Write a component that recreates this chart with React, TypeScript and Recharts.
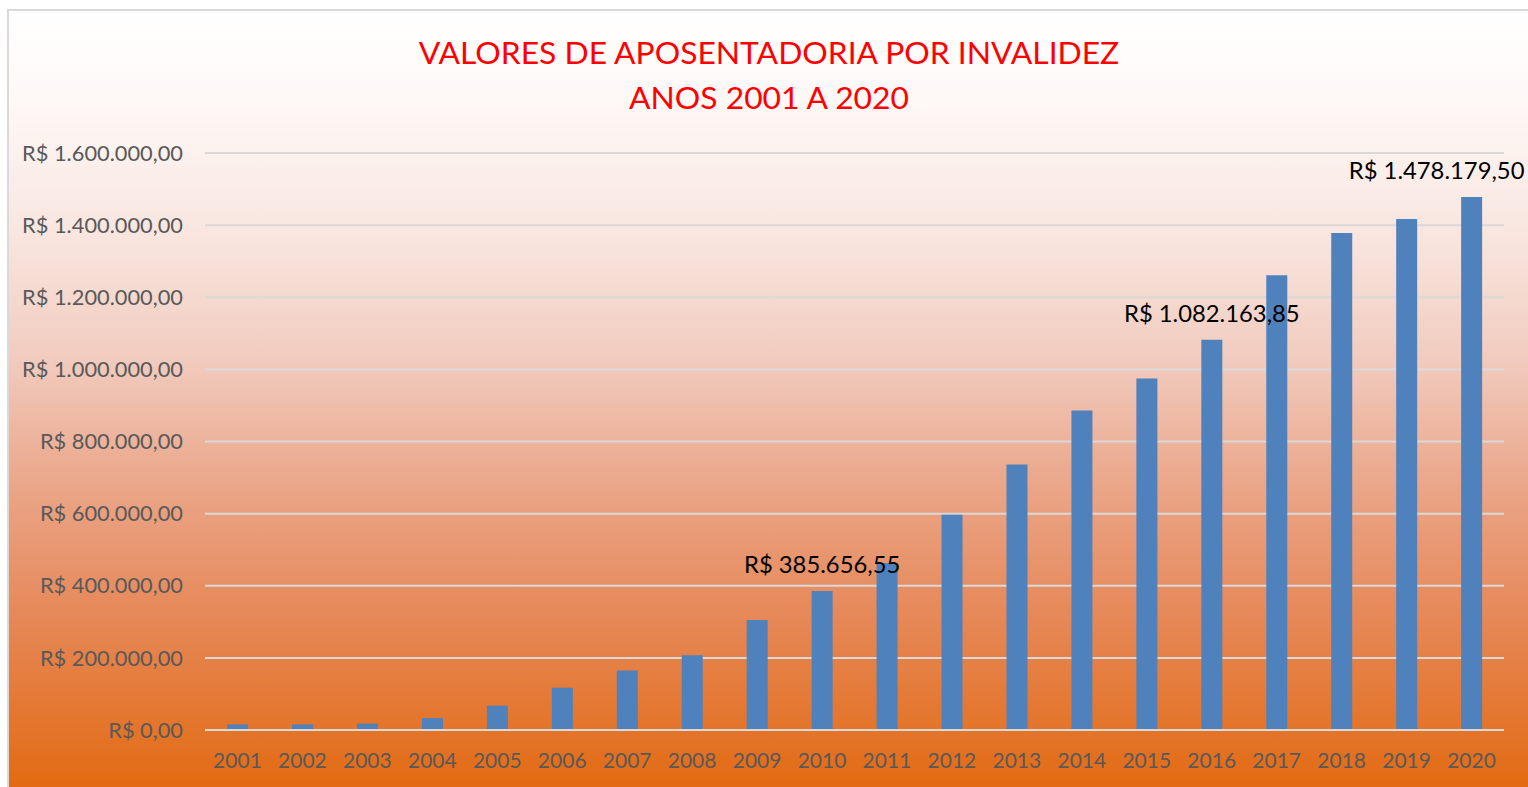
import React from 'react';
import { BarChart, Bar, XAxis, YAxis, CartesianGrid, LabelList } from 'recharts';

const years = ['2001','2002','2003','2004','2005','2006','2007','2008','2009','2010','2011','2012','2013','2014','2015','2016','2017','2018','2019','2020'];
const values = [15500, 15500, 17500, 33000, 67500, 117000, 165000, 207500, 305000, 385656.55, 463000, 597000, 736000, 886000, 975000, 1082163.85, 1261000, 1378500, 1416700, 1478179.5];
const labeledYears = ['2010', '2016', '2020'];
const yTicks = [0, 200000, 400000, 600000, 800000, 1000000, 1200000, 1400000, 1600000];
const titleLines = ['VALORES DE APOSENTADORIA POR INVALIDEZ', 'ANOS 2001 A 2020'];

const data = years.map((y, i) => ({ year: y, value: values[i] }));

const brl = (v: number) => {
  const fixed = v.toFixed(2);
  const [intPart, dec] = fixed.split('.');
  const withDots = intPart.replace(/\B(?=(\d{3})+(?!\d))/g, '.');
  return `R$ ${withDots},${dec}`;
};

const FONT = 'Lato, Carlito, "Open Sans", sans-serif';

const DataLabel = (props: any) => {
  const { x, y, width, index } = props;
  const yr = years[index];
  if (!labeledYears.includes(yr)) return null;
  let cx = x + width / 2;
  const text = brl(values[index]);
  // keep inside the chart area like the original
  if (yr === '2020') cx = cx - 35;
  return (
    <text x={cx} y={y - 27} textAnchor="middle" dominantBaseline="central" fill="#000" fontSize={23.8} fontFamily={FONT}>
      {text}
    </text>
  );
};

export default function App() {
  return (
    <div
      style={{
        position: 'fixed',
        left: 7,
        top: 9,
        width: 1521,
        height: 778,
        boxSizing: 'border-box',
        borderLeft: '2px solid #D9D9D9',
        borderTop: '2px solid #D9D9D9',
        background: 'linear-gradient(to bottom, #FFFFFF 0%, #FEF8F6 12%, #F8E4DD 30%, #F1CBBE 45%, #EAA486 62%, #E68858 78%, #E3701F 96%, #E36A12 100%)',
        fontFamily: FONT,
        overflow: 'hidden',
      }}
    >
      <style>{`html,body{margin:0;overflow:hidden}`}</style>
      <div style={{ position: 'absolute', left: 0, top: 0, width: 1519, pointerEvents: 'none' }}>
        {titleLines.map((t, i) => (
          <div
            key={i}
            style={{
              position: 'absolute',
              left: 0,
              width: 1520,
              top: 21 + i * 45,
              textAlign: 'center',
              color: '#FF0000',
              fontSize: 31.8,
              lineHeight: '40px',
              fontFamily: FONT,
            }}
          >
            {t}
          </div>
        ))}
      </div>
      <div style={{ position: 'absolute', left: 0, top: 0 }}>
        <BarChart
          width={1519}
          height={776}
          data={data}
          margin={{ top: 142, right: 24, bottom: 17, left: 0 }}
          barCategoryGap="34%"
          style={{ overflow: 'visible' }}
        >
          <CartesianGrid vertical={false} stroke="#D9D9D9" strokeWidth={2} />
          <XAxis
            dataKey="year"
            axisLine={{ stroke: '#D9D9D9', strokeWidth: 2 }}
            tickLine={false}
            tick={{ fill: '#595959', fontSize: 21, fontFamily: FONT }}
            tickMargin={17}
            height={40}
            interval={0}
          />
          <YAxis
            width={196}
            domain={[0, 1600000]}
            ticks={yTicks}
            axisLine={false}
            tickLine={false}
            tickFormatter={brl}
            tick={{ fill: '#595959', fontSize: 21.8, fontFamily: FONT }}
            tickMargin={16}
          />
          <Bar dataKey="value" fill="#4F81BD" isAnimationActive={false}>
            <LabelList dataKey="value" content={<DataLabel />} />
          </Bar>
        </BarChart>
      </div>
    </div>
  );
}
